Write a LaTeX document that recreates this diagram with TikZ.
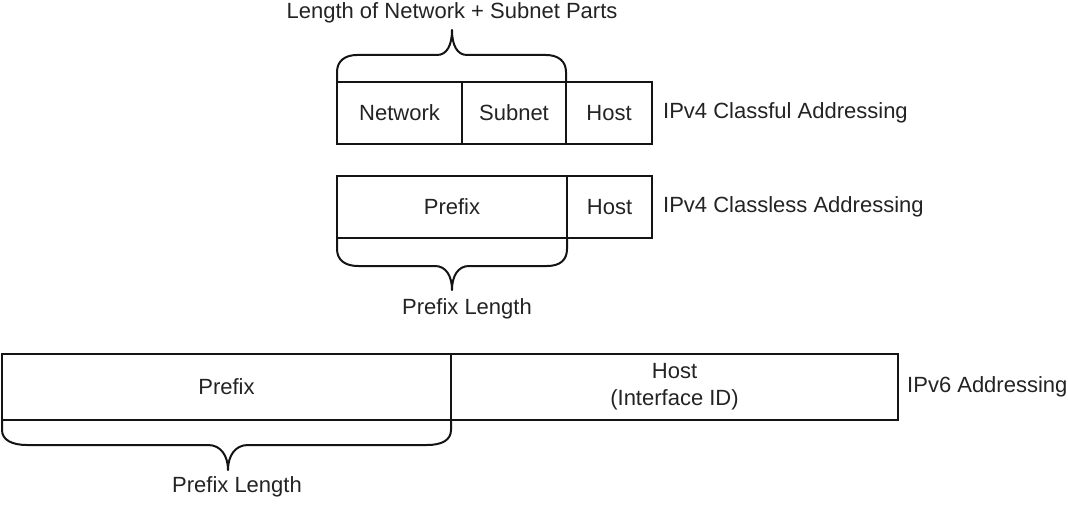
\documentclass[tikz,border=0pt]{standalone}
\usepackage{fontspec}
\setmainfont{Liberation Sans}
\usepackage{tikz}
\usetikzlibrary{positioning}
\usepackage{xcolor}
\definecolor{lineblk}{RGB}{20,20,20}
\definecolor{txtblk}{RGB}{35,35,35}
\tikzstyle{cell} = [draw=lineblk, line width=2pt, outer sep=0pt, inner sep=0pt, anchor=north west, text=txtblk, font=\fontsize{22}{27}\selectfont]
\tikzstyle{lbl} = [inner sep=0pt, text=txtblk, font=\fontsize{22}{27}\selectfont]
\tikzstyle{brace} = [draw=lineblk, line width=2pt, line join=round]

\begin{document}
\begin{tikzpicture}[x=1pt, y=-1pt]
\useasboundingbox (0,0) rectangle (1068,505);

% IPv4 classful
\node[cell, minimum width=125pt, minimum height=62pt] (net) at (337,82) {Network};
\node[cell, minimum width=104pt, minimum height=62pt] (sub) at (net.north east) {Subnet};
\node[cell, minimum width=86pt, minimum height=62pt] (host1) at (sub.north east) {Host};
\node[lbl, anchor=west] (cfl) at ([xshift=11pt]host1.east) {IPv4 Classful Addressing};

\coordinate (tip1) at (452,30);
\draw[brace] (net.north west) -- (337,72) .. controls (337,61) and (345,55) .. (357,55) -- (437,55)
  .. controls (447,55) and (452,45) .. (tip1) .. controls (452,45) and (457,55) .. (467,55)
  -- (546,55) .. controls (558,55) and (566,61) .. (566,72) -- (sub.north east);
\node[lbl] (len1) at (452,13) {Length of Network + Subnet Parts};

% IPv4 classless
\node[cell, minimum width=230pt, minimum height=62pt] (pre4) at (337,176) {Prefix};
\node[cell, minimum width=85pt, minimum height=62pt] (host2) at (pre4.north east) {Host};
\node[lbl, anchor=west] (cls) at ([xshift=11pt]host2.east) {IPv4 Classless Addressing};

\coordinate (tip2) at (452,290);
\draw[brace] (pre4.south west) -- (337,249) .. controls (337,260) and (345,266) .. (358,266) -- (435,266)
  .. controls (446,266) and (452,276) .. (tip2) .. controls (452,276) and (458,266) .. (469,266)
  -- (547,266) .. controls (560,266) and (567,260) .. (567,249) -- (pre4.south east);
\node[lbl] (len2) at (467,309) {Prefix Length};

% IPv6
\node[cell, minimum width=449pt, minimum height=66pt] (pre6) at (2,354) {Prefix};
\node[cell, minimum width=447pt, minimum height=66pt, align=center] (host3) at (pre6.north east) {Host\\(Interface ID)};
\node[lbl, anchor=west] (v6) at ([xshift=9pt]host3.east) {IPv6 Addressing};

\coordinate (tip3) at (228,470);
\draw[brace] (pre6.south west) -- (2,430) .. controls (2,440) and (12,445) .. (27,445) -- (208,445)
  .. controls (221,445) and (228,456) .. (tip3) .. controls (228,456) and (235,445) .. (248,445)
  -- (427,445) .. controls (442,445) and (451,440) .. (451,430) -- (pre6.south east);
\node[lbl] (len3) at (237,487) {Prefix Length};
\end{tikzpicture}
\end{document}
